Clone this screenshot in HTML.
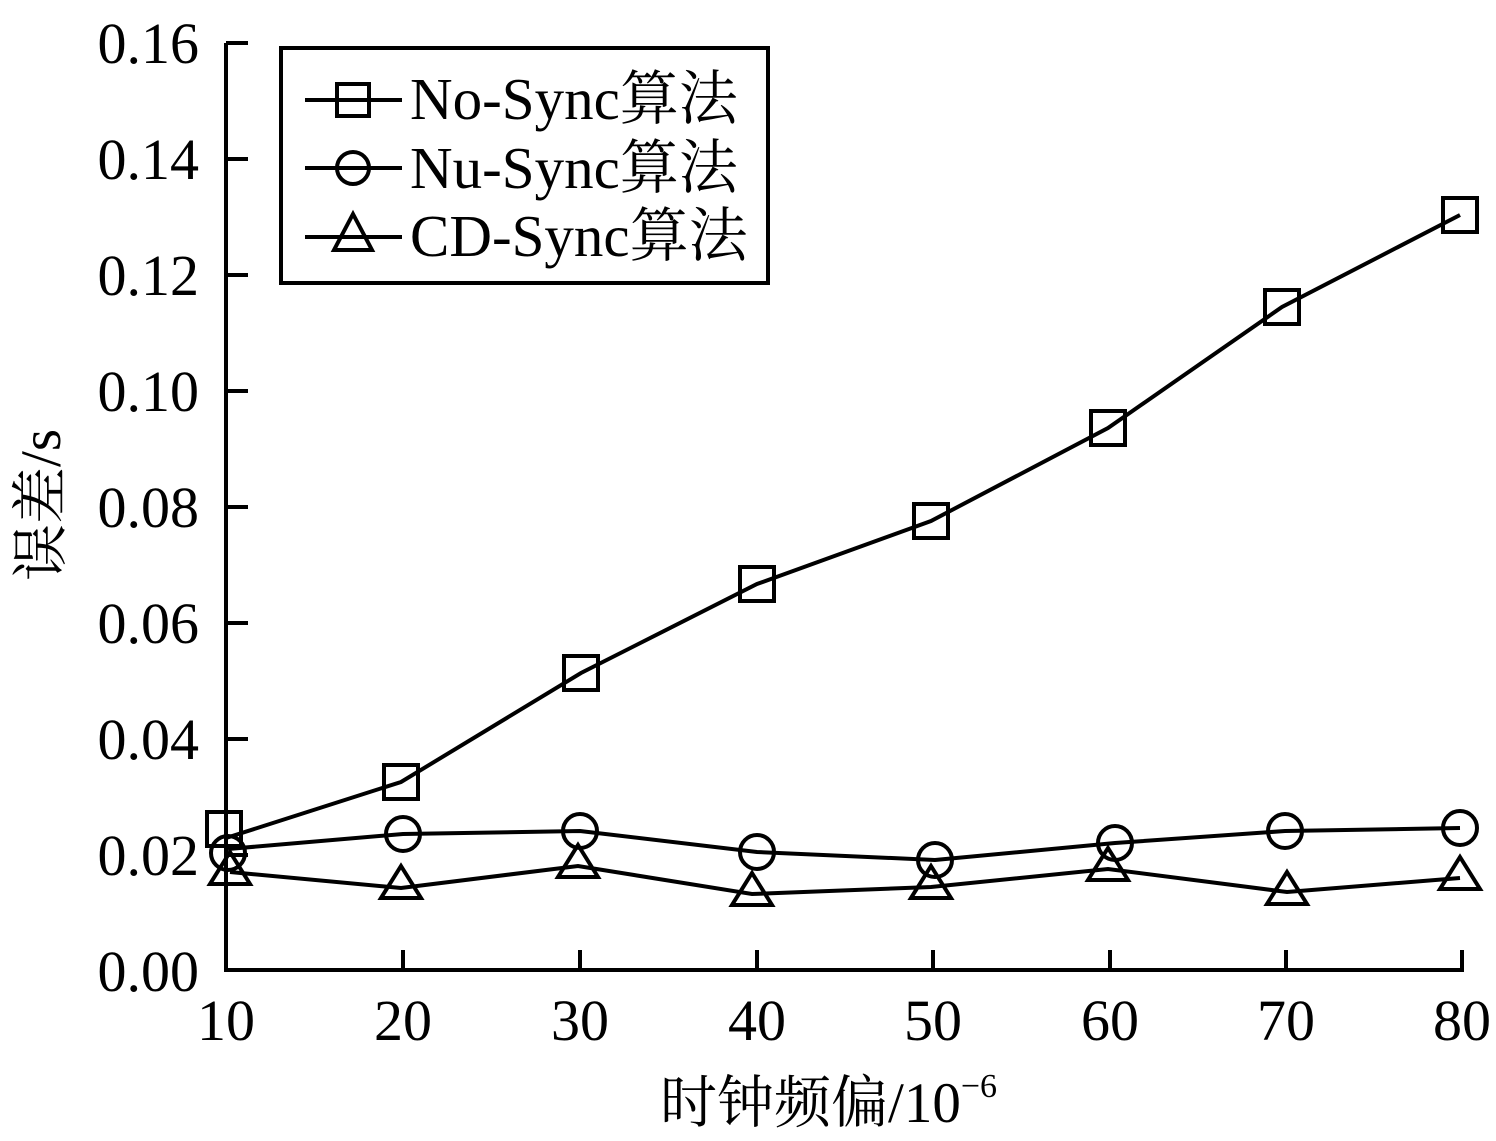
<!DOCTYPE html>
<html><head><meta charset="utf-8"><style>
body{margin:0;background:#fff}
svg text{font-family:"Liberation Serif","Noto Serif CJK SC",serif;fill:#000}
</style></head><body>
<svg width="1496" height="1136" viewBox="0 0 1496 1136" xmlns="http://www.w3.org/2000/svg">
<g stroke="#000" stroke-width="4" fill="none">
<polyline points="226,43 226,970 1462,970 1462,950"/>
<line x1="226" y1="43" x2="248" y2="43"/><line x1="226" y1="159" x2="248" y2="159"/>
<line x1="226" y1="275" x2="248" y2="275"/><line x1="226" y1="391" x2="248" y2="391"/>
<line x1="226" y1="507" x2="248" y2="507"/><line x1="226" y1="623" x2="248" y2="623"/>
<line x1="226" y1="739" x2="248" y2="739"/><line x1="226" y1="855" x2="248" y2="855"/>
<line x1="403" y1="970" x2="403" y2="950"/><line x1="580" y1="970" x2="580" y2="950"/>
<line x1="757" y1="970" x2="757" y2="950"/><line x1="933" y1="970" x2="933" y2="950"/>
<line x1="1110" y1="970" x2="1110" y2="950"/><line x1="1286" y1="970" x2="1286" y2="950"/>
<rect x="281" y="48" width="487" height="235"/>
<polyline points="226,838 401,782 581,673 757,584 931,521 1108,428 1282,307 1460,215"/>
<polyline points="228,849 403,834 580,831 757,852 935,860 1115,843 1285,831 1460,828"/>
<polyline points="230,872 401,888 578,866 752,894 931,887 1108,869 1287,892 1460,878"/>
<g>
<rect x="207" y="812" width="34" height="34"/><rect x="384" y="765" width="34" height="34"/>
<rect x="564" y="656" width="34" height="34"/><rect x="740" y="567" width="34" height="34"/>
<rect x="914" y="504" width="34" height="34"/><rect x="1091" y="411" width="34" height="34"/>
<rect x="1265" y="290" width="34" height="34"/><rect x="1443" y="198" width="34" height="34"/>
</g>
<g>
<circle cx="228" cy="853" r="17"/><circle cx="403" cy="834" r="17"/><circle cx="580" cy="831" r="17"/>
<circle cx="757" cy="852" r="17"/><circle cx="935" cy="860" r="17"/><circle cx="1115" cy="843" r="17"/>
<circle cx="1285" cy="831" r="17"/><circle cx="1460" cy="828" r="17"/>
</g>
<g>
<polygon points="230,852 250,884 210,884"/><polygon points="401,866 421,898 381,898"/>
<polygon points="578,845 598,877 558,877"/><polygon points="752,873 772,905 732,905"/>
<polygon points="931,866 951,898 911,898"/><polygon points="1108,848 1128,880 1088,880"/>
<polygon points="1287,872 1307,904 1267,904"/><polygon points="1460,857 1480,889 1440,889"/>
</g>
<line x1="305" y1="100" x2="402" y2="100"/><rect x="337" y="84" width="32" height="32"/>
<line x1="305" y1="168" x2="402" y2="168"/><circle cx="353" cy="168" r="16"/>
<line x1="305" y1="237" x2="402" y2="237"/><polygon points="353,214 372,250 334,250"/>
</g>
<g font-size="58" text-anchor="end">
<text x="199" y="63">0.16</text><text x="199" y="179">0.14</text><text x="199" y="295">0.12</text>
<text x="199" y="411">0.10</text><text x="199" y="527">0.08</text><text x="199" y="643">0.06</text>
<text x="199" y="759">0.04</text><text x="199" y="875">0.02</text><text x="199" y="991">0.00</text>
</g>
<g font-size="58" text-anchor="middle">
<text x="226" y="1040">10</text><text x="403" y="1040">20</text><text x="580" y="1040">30</text>
<text x="757" y="1040">40</text><text x="933" y="1040">50</text><text x="1110" y="1040">60</text>
<text x="1286" y="1040">70</text><text x="1462" y="1040">80</text>
</g>
<g font-size="59">
<text x="410" y="119">No-Sync算法</text>
<text x="410" y="188">Nu-Sync算法</text>
<text x="410" y="256">CD-Sync算法</text>
</g>
<text x="660" y="1122" font-size="57">时钟频偏/10<tspan font-size="34" dy="-25">−6</tspan></text>
<text transform="translate(60,505) rotate(-90)" font-size="57" text-anchor="middle">误差/s</text>
</svg>
</body></html>
